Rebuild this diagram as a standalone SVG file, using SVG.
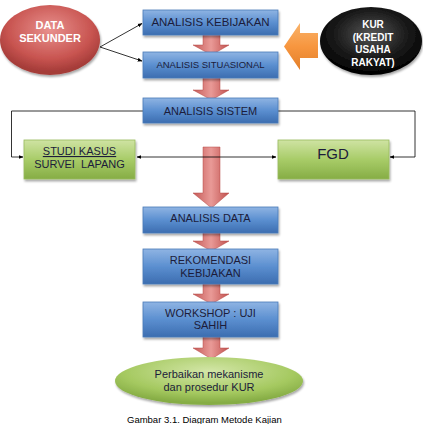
<svg xmlns="http://www.w3.org/2000/svg" width="423" height="424" viewBox="0 0 423 424">
<defs>
<linearGradient id="blue" x1="0" y1="0" x2="0" y2="1"><stop offset="0" stop-color="#8fb4e3"/><stop offset="0.5" stop-color="#5b8fd0"/><stop offset="1" stop-color="#3c6db0"/></linearGradient>
<linearGradient id="green" x1="0" y1="0" x2="0" y2="1"><stop offset="0" stop-color="#cfe3a3"/><stop offset="0.5" stop-color="#a8cc68"/><stop offset="1" stop-color="#86ad45"/></linearGradient>
<linearGradient id="redarr" x1="0" y1="0" x2="1" y2="0"><stop offset="0" stop-color="#c55a57"/><stop offset="0.5" stop-color="#e99a97"/><stop offset="1" stop-color="#c0504d"/></linearGradient>
<linearGradient id="orange" x1="0" y1="0" x2="0" y2="1"><stop offset="0" stop-color="#f9b36b"/><stop offset="0.5" stop-color="#f7963f"/><stop offset="1" stop-color="#e27f2a"/></linearGradient>
<radialGradient id="redell" cx="0.5" cy="0.35" r="0.6"><stop offset="0" stop-color="#e8908d"/><stop offset="0.7" stop-color="#c85450"/><stop offset="1" stop-color="#a53c39"/></radialGradient>
<radialGradient id="blackell" cx="0.5" cy="0.4" r="0.6"><stop offset="0" stop-color="#555"/><stop offset="0.6" stop-color="#1a1a1a"/><stop offset="1" stop-color="#000"/></radialGradient>
<radialGradient id="greenell" cx="0.5" cy="0.3" r="0.65"><stop offset="0" stop-color="#d3e6a8"/><stop offset="0.7" stop-color="#a5c960"/><stop offset="1" stop-color="#86ad45"/></radialGradient>
<marker id="ah" viewBox="0 0 10 10" refX="9" refY="5" markerWidth="6" markerHeight="6" orient="auto-start-reverse"><path d="M0,1 L10,5 L0,9 z" fill="#000"/></marker>
<filter id="sh" x="-10%" y="-10%" width="130%" height="140%"><feDropShadow dx="1" dy="2" stdDeviation="1" flood-color="#000" flood-opacity="0.35"/></filter>
</defs>
<style>
.box{fill:url(#blue);stroke:#4a7ab8;stroke-width:0.8;filter:url(#sh)}
.gbox{fill:url(#green);stroke:#98bb5c;stroke-width:0.8;filter:url(#sh)}
.t{font-family:"Liberation Sans",Arial,sans-serif;fill:#1c1c3a;text-anchor:middle}
.w{font-family:"Liberation Sans",Arial,sans-serif;fill:#fff;font-weight:bold;text-anchor:middle}
.ln{fill:none;stroke:#000;stroke-width:0.8}
.ra{fill:url(#redarr);stroke:#b64a47;stroke-width:0.5}
</style>

<g id="flow-arrows">
<path class="ra" d="M203,33 H220 V45 H229 L211.5,55 L193,45 H203 Z"/>
<path class="ra" d="M203,76 H220 V90 H229 L211.5,100 L193,90 H203 Z"/>
<path class="ra" d="M203,147 H220 V193 H229 L211.5,208 L193,193 H203 Z"/>
<path class="ra" d="M203,231 H220 V241 H229 L211.5,251 L193,241 H203 Z"/>
<path class="ra" d="M203,282 H220 V294 H229 L211.5,304 L193,294 H203 Z"/>
<path class="ra" d="M203,335 H220 V348 H229 L211.5,359 L193,348 H203 Z"/>
</g>

<g id="connectors">
<line class="ln" x1="100" y1="47" x2="142" y2="23.5" marker-end="url(#ah)"/>
<line class="ln" x1="100" y1="47" x2="142" y2="61" marker-end="url(#ah)"/>
<polyline class="ln" points="143,111 11.5,111 11.5,157 23,157" marker-end="url(#ah)"/>
<polyline class="ln" points="277,111 415,111 415,157 390,157" marker-end="url(#ah)"/>
<line class="ln" x1="137" y1="157" x2="276" y2="157" marker-start="url(#ah)" marker-end="url(#ah)"/>
<path d="M318,33 V58 H300 V70 L284,46.5 L300,23 V33 Z" fill="url(#orange)"/>
</g>

<g id="data-sekunder">
<ellipse cx="50" cy="40" rx="50" ry="35" fill="url(#redell)" filter="url(#sh)"/>
<text class="w" font-size="11"><tspan x="50" y="29">DATA</tspan><tspan x="50" y="42">SEKUNDER</tspan></text>
</g>

<g id="kur">
<ellipse cx="371" cy="41" rx="51" ry="34" fill="url(#blackell)" filter="url(#sh)"/>
<text class="w" font-size="10"><tspan x="373" y="28">KUR</tspan><tspan x="373" y="40.5">(KREDIT</tspan><tspan x="373" y="53">USAHA</tspan><tspan x="373" y="65.5">RAKYAT)</tspan></text>
</g>

<g id="analisis-kebijakan">
<rect class="box" x="143" y="10" width="135" height="25"/>
<text class="t" x="210.5" y="25.5" font-size="11.5">ANALISIS KEBIJAKAN</text>
</g>

<g id="analisis-situasional">
<rect class="box" x="143" y="52" width="135" height="26"/>
<text class="t" x="210.5" y="67.5" font-size="9.5">ANALISIS SITUASIONAL</text>
</g>

<g id="analisis-sistem">
<rect class="box" x="143" y="98" width="135" height="25"/>
<text class="t" x="210.5" y="114.5" font-size="11">ANALISIS SISTEM</text>
</g>

<g id="studi-kasus">
<rect class="gbox" x="24" y="140" width="111" height="39"/>
<text class="t" font-size="11"><tspan x="79.5" y="155" text-decoration="underline">STUDI KASUS</tspan><tspan x="79.5" y="167.5">SURVEI&#160; LAPANG</tspan></text>
</g>

<g id="fgd">
<rect class="gbox" x="278" y="140" width="111" height="39"/>
<text class="t" x="333" y="159" font-size="15">FGD</text>
</g>

<g id="analisis-data">
<rect class="box" x="143" y="207" width="135" height="26"/>
<text class="t" x="210.5" y="222" font-size="11">ANALISIS DATA</text>
</g>

<g id="rekomendasi">
<rect class="box" x="143" y="249" width="135" height="35"/>
<text class="t" font-size="11"><tspan x="210.5" y="264">REKOMENDASI</tspan><tspan x="210.5" y="277">KEBIJAKAN</tspan></text>
</g>

<g id="workshop">
<rect class="box" x="143" y="302" width="135" height="35"/>
<text class="t" font-size="11"><tspan x="210.5" y="317">WORKSHOP : UJI</tspan><tspan x="210.5" y="328.5">SAHIH</tspan></text>
</g>

<g id="perbaikan">
<ellipse cx="209" cy="381" rx="94" ry="24" fill="url(#greenell)" filter="url(#sh)"/>
<text class="t" font-size="11"><tspan x="209" y="377.5">Perbaikan mekanisme</tspan><tspan x="209" y="390.5">dan prosedur KUR</tspan></text>
</g>

<text x="127" y="423" font-family="Liberation Sans,Arial,sans-serif" font-size="9.5" fill="#000">Gambar 3.1. Diagram Metode Kajian</text>
</svg>
